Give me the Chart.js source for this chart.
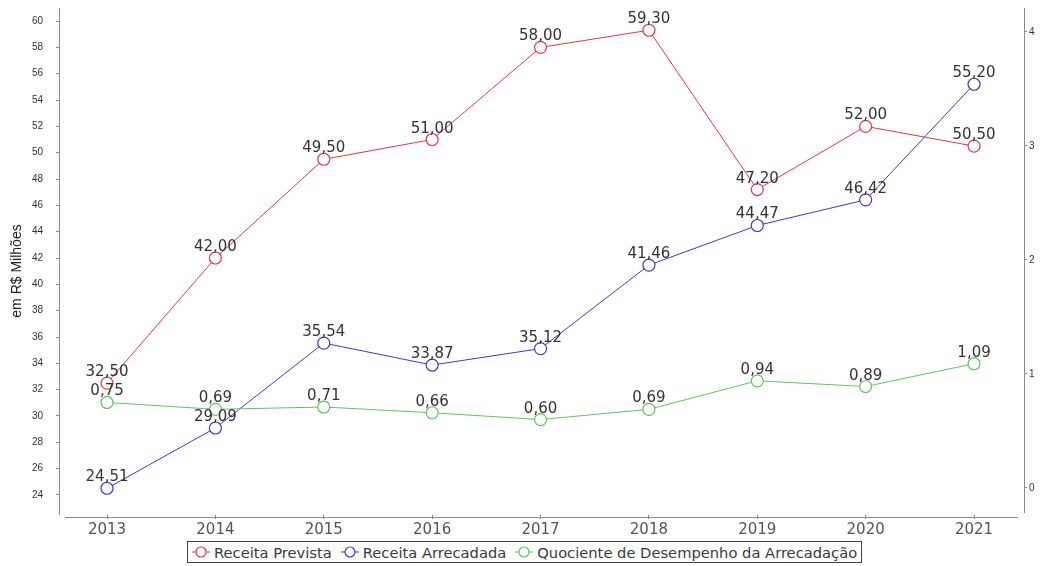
<!DOCTYPE html>
<html>
<head>
<meta charset="utf-8">
<script src="https://cdn.jsdelivr.net/npm/chart.js@4.4.1/dist/chart.umd.min.js"></script>
<style>
  html, body { margin: 0; padding: 0; background: #fff; }
  #wrap { position: relative; width: 1040px; height: 566px; }
  #chart { position: absolute; left: 0; top: 0; }
  #legend {
    position: absolute; left: 187px; top: 541px; height: 22px;
    box-sizing: border-box; border: 1px solid #444; background: #fff;
    display: flex; align-items: center; padding: 0 4px 0 4px;
    font-family: 'DejaVu Sans', sans-serif;
    font-size: 14.7px; color: #3a3a3a; white-space: nowrap;
  }
  .item { display: flex; align-items: center; margin-right: 9px; }
  .item:last-child { margin-right: 0; }
  .item svg { margin-right: 4px; }
</style>
</head>
<body>
<div id="wrap">
  <canvas id="chart" width="1040" height="566"></canvas>
  <div id="legend"></div>
</div>
<script>
// Years on the horizontal axis
const years = [2013, 2014, 2015, 2016, 2017, 2018, 2019, 2020, 2021];

// Revenue series (R$ millions)
const receitaPrevista    = [32.50, 42.00, 49.50, 51.00, 58.00, 59.30, 47.20, 52.00, 50.50];
const receitaArrecadada  = [24.51, 29.09, 35.54, 33.87, 35.12, 41.46, 44.47, 46.42, 55.20];
// Collection performance ratio (right axis)
const quociente          = [0.75, 0.69, 0.71, 0.66, 0.60, 0.69, 0.94, 0.89, 1.09];

// Tick labels
const leftTicks  = [24, 26, 28, 30, 32, 34, 36, 38, 40, 42, 44, 46, 48, 50, 52, 54, 56, 58, 60];
const rightTicks = [0, 1, 2, 3, 4];

const seriesNames = ['Receita Prevista', 'Receita Arrecadada', 'Quociente de Desempenho da Arrecadação'];
const seriesColors = ['#e5393c', '#3a3ad6', '#5ec55e'];

const toPoints = arr => arr.map((v, i) => ({ x: years[i], y: v }));
const fmt = v => v.toFixed(2).replace('.', ',');

const axisGray = '#8a8a8a';

// scales keep a fixed size and no extra label padding
const fixSize = (w, h) => s => {
  if (w !== null) s.width = w;
  if (h !== null) s.height = h;
  s.paddingTop = 0; s.paddingBottom = 0; s.paddingLeft = 0; s.paddingRight = 0;
};

const decor = {
  id: 'decor',
  afterDatasetsDraw(chart) {
    const ctx = chart.ctx;
    ctx.save();
    ctx.font = '15px "DejaVu Sans", sans-serif';
    ctx.fillStyle = '#333';
    ctx.textAlign = 'center';
    ctx.textBaseline = 'alphabetic';
    chart.data.datasets.forEach((ds, di) => {
      const meta = chart.getDatasetMeta(di);
      meta.data.forEach((pt, i) => {
        ctx.fillText(fmt(ds.data[i].y), pt.x, pt.y - 7);
      });
    });
    ctx.restore();
  },
  afterDraw(chart) {
    const ctx = chart.ctx;
    const a = chart.chartArea;
    ctx.save();
    ctx.strokeStyle = axisGray;
    ctx.lineWidth = 1;
    ctx.beginPath();
    ctx.moveTo(Math.round(a.left) - 0.5, a.top);
    ctx.lineTo(Math.round(a.left) - 0.5, a.bottom);
    ctx.moveTo(Math.round(a.right) + 0.5, a.top);
    ctx.lineTo(Math.round(a.right) + 0.5, a.bottom - 2);
    ctx.moveTo(a.left + 5, Math.round(a.bottom) + 2.5);
    ctx.lineTo(a.right - 6, Math.round(a.bottom) + 2.5);
    ctx.stroke();

    // left axis title
    ctx.translate(17, 271);
    ctx.rotate(-Math.PI / 2);
    ctx.font = '14px "Liberation Sans Narrow", "Liberation Sans", sans-serif';
    ctx.fillStyle = '#222';
    ctx.textAlign = 'center';
    ctx.textBaseline = 'middle';
    ctx.fillText('em R$ Milhões', 0, 0);
    ctx.restore();
  }
};

const chart = new Chart(document.getElementById('chart'), {
  type: 'line',
  data: {
    datasets: [receitaPrevista, receitaArrecadada, quociente].map((arr, k) => ({
      label: seriesNames[k],
      data: toPoints(arr),
      yAxisID: k === 2 ? 'y2' : 'y',
      borderColor: seriesColors[k],
      borderWidth: 1,
      pointRadius: 6,
      pointHoverRadius: 6,
      pointBorderWidth: 1.2,
      pointBackgroundColor: '#fff',
      pointBorderColor: seriesColors[k],
      tension: 0,
      order: 2 - k
    }))
  },
  options: {
    responsive: false,
    animation: false,
    events: [],
    layout: { padding: { top: 8, left: 0, right: 0, bottom: 0 } },
    plugins: { legend: { display: false }, tooltip: { enabled: false } },
    scales: {
      x: {
        type: 'linear',
        min: 2012.566,
        max: 2021.461,
        afterBuildTicks: s => { s.ticks = years.map(v => ({ value: v })); },
        afterFit: fixSize(null, 51),
        border: { display: false },
        grid: { drawOnChartArea: false, tickLength: 4, tickColor: axisGray },
        ticks: {
          autoSkip: false, maxRotation: 0, padding: 2,
          color: '#555',
          font: { family: '"DejaVu Sans", sans-serif', size: 15 },
          callback: v => String(v)
        }
      },
      y: {
        position: 'left',
        min: 22.48,
        max: 60.99,
        afterBuildTicks: s => { s.ticks = leftTicks.map(v => ({ value: v })); },
        afterFit: fixSize(60, null),
        border: { display: false },
        grid: { drawOnChartArea: false, tickLength: 4, tickColor: axisGray },
        ticks: {
          padding: 13, color: '#333',
          font: { family: '"Liberation Sans", Arial, sans-serif', size: 10 },
          callback: v => String(v)
        }
      },
      y2: {
        position: 'right',
        min: -0.237,
        max: 4.21,
        afterBuildTicks: s => { s.ticks = rightTicks.map(v => ({ value: v })); },
        afterFit: fixSize(16, null),
        border: { display: false },
        grid: { drawOnChartArea: false, tickLength: 3, tickColor: axisGray },
        ticks: {
          padding: 2, color: '#333',
          font: { family: '"Liberation Sans", Arial, sans-serif', size: 10 },
          callback: v => String(v)
        }
      }
    }
  },
  plugins: [decor]
});

// Legend (HTML, below the plot)
const legend = document.getElementById('legend');
seriesNames.forEach((name, k) => {
  const item = document.createElement('div');
  item.className = 'item';
  item.innerHTML =
    '<svg width="18" height="12" viewBox="0 0 18 12">' +
    '<line x1="0" y1="6" x2="18" y2="6" stroke="' + seriesColors[k] + '" stroke-width="1"/>' +
    '<circle cx="9" cy="6" r="5" fill="#fff" stroke="' + seriesColors[k] + '" stroke-width="1.2"/>' +
    '</svg><span>' + name + '</span>';
  legend.appendChild(item);
});
</script>
</body>
</html>
